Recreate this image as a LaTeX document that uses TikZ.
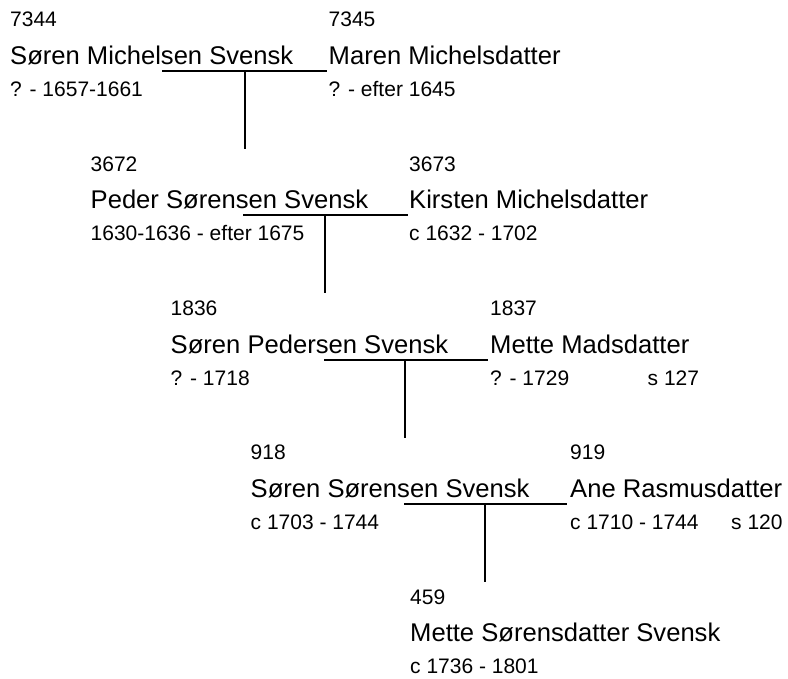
\documentclass[tikz,border=0pt]{standalone}
\usepackage{fontspec}
\setmainfont{Liberation Sans}
\tikzset{
  numtxt/.style={anchor=base west, inner sep=0pt, font=\fontsize{21}{24}\selectfont},
  nametxt/.style={anchor=base west, inner sep=0pt, font=\fontsize{25.6}{30}\selectfont},
  link/.style={line width=2pt, line cap=rect},
}
\begin{document}
\begin{tikzpicture}[x=1pt,y=-1pt]
\useasboundingbox (0,0) rectangle (788,679);
% generation 1
\node[numtxt]  (n7344) at (10,27)  {7344};
\node[nametxt] (p7344) at (10,64.5) {Søren Michelsen Svensk};
\node[numtxt]  (d7344) at (10,96.5) {? - 1657-1661};
\node[numtxt]  (n7345) at (328.5,27)  {7345};
\node[nametxt] (p7345) at (328.5,64.5) {Maren Michelsdatter};
\node[numtxt]  (d7345) at (328.5,96.5) {? - efter 1645};
% generation 2
\node[numtxt]  (n3672) at (90.5,171.3)  {3672};
\node[nametxt] (p3672) at (90.5,208.8) {Peder Sørensen Svensk};
\node[numtxt]  (d3672) at (90.5,240.8) {1630-1636 - efter 1675};
\node[numtxt]  (n3673) at (409,171.3)  {3673};
\node[nametxt] (p3673) at (409,208.8) {Kirsten Michelsdatter};
\node[numtxt]  (d3673) at (409,240.8) {c 1632 - 1702};
% generation 3
\node[numtxt]  (n1836) at (170.5,315.6)  {1836};
\node[nametxt] (p1836) at (170.5,353.1) {Søren Pedersen Svensk};
\node[numtxt]  (d1836) at (170.5,385.1) {? - 1718};
\node[numtxt]  (n1837) at (490,315.6)  {1837};
\node[nametxt] (p1837) at (490,353.1) {Mette Madsdatter};
\node[numtxt]  (d1837) at (490,385.1) {? - 1729};
\node[numtxt]  (s1837) at (647.5,385.1) {s 127};
% generation 4
\node[numtxt]  (n918) at (250.5,459.9)  {918};
\node[nametxt] (p918) at (250.5,497.4) {Søren Sørensen Svensk};
\node[numtxt]  (d918) at (250.5,529.4) {c 1703 - 1744};
\node[numtxt]  (n919) at (570,459.9)  {919};
\node[nametxt] (p919) at (570,497.4) {Ane Rasmusdatter};
\node[numtxt]  (d919) at (570,529.4) {c 1710 - 1744};
\node[numtxt]  (s919) at (731,529.4) {s 120};
% generation 5
\node[numtxt]  (n459) at (410,604.2)  {459};
\node[nametxt] (p459) at (410,641.7) {Mette Sørensdatter Svensk};
\node[numtxt]  (d459) at (410,673.7) {c 1736 - 1801};
% connectors
\coordinate (m1a) at (163,71);   \coordinate (m1b) at (326,71);
\coordinate (j1) at (245,71);    \coordinate (c1) at (245,148);
\coordinate (m2a) at (244,215.3); \coordinate (m2b) at (406.5,215.3);
\coordinate (j2) at (325,215.3);  \coordinate (c2) at (325,292.3);
\coordinate (m3a) at (325,359.6); \coordinate (m3b) at (486.5,359.6);
\coordinate (j3) at (405,359.6);  \coordinate (c3) at (405,436.6);
\coordinate (m4a) at (405,503.9); \coordinate (m4b) at (566,503.9);
\coordinate (j4) at (485,503.9);  \coordinate (c4) at (485,580.9);
\draw[link] (m1a) -- (m1b);
\draw[link] (j1) -- (c1);
\draw[link] (m2a) -- (m2b);
\draw[link] (j2) -- (c2);
\draw[link] (m3a) -- (m3b);
\draw[link] (j3) -- (c3);
\draw[link] (m4a) -- (m4b);
\draw[link] (j4) -- (c4);
\end{tikzpicture}
\end{document}
